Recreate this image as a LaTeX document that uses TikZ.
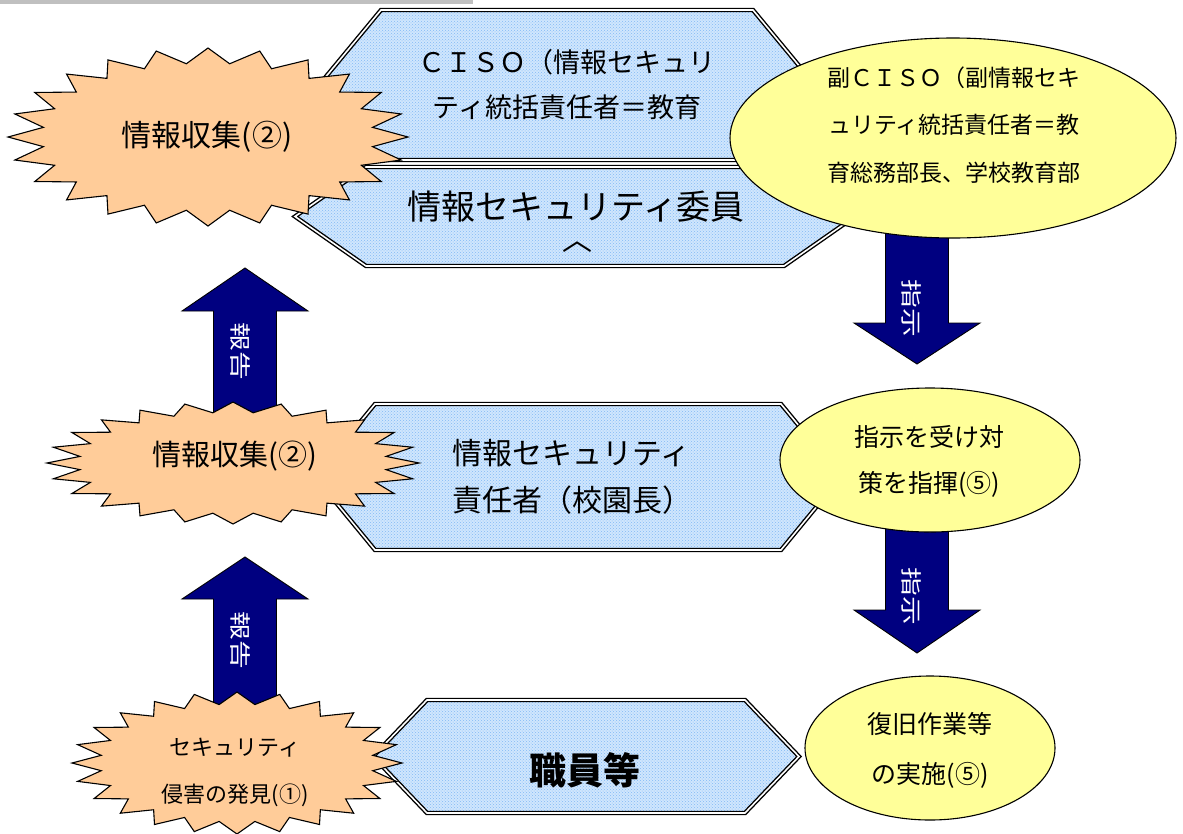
\documentclass[tikz,border=0pt]{standalone}
\usepackage{fontspec}
\setmainfont{Noto Sans CJK JP}
\usetikzlibrary{shapes.geometric,patterns}
\definecolor{peach}{RGB}{255,204,153}
\definecolor{ovalyellow}{RGB}{255,255,153}
\definecolor{navyblue}{RGB}{0,0,128}
\definecolor{hexblue}{RGB}{208,230,253}
\definecolor{hexdot}{RGB}{130,185,245}
\definecolor{barGray}{RGB}{192,192,192}
\tikzset{
  hexbox/.style={draw=black, double=white, line width=1.4pt, double distance=1.6pt,
    preaction={fill=hexblue}, pattern=crosshatch dots, pattern color=hexdot, line join=miter},
  burst/.style={draw=black, fill=peach, line width=1.1pt, line join=miter},
  oval/.style={ellipse, draw=black, fill=ovalyellow, line width=1.1pt, inner sep=0pt},
  blockarrow/.style={draw=black, fill=navyblue, line width=0.9pt, line join=miter},
  lbl/.style={inner sep=0pt, align=center, text=black},
  arrowlbl/.style={inner sep=0pt, text=white, rotate=-90, font=\fontsize{25}{25}\selectfont},
}
% xl, offset, xr, ytop, ybottom
\newcommand{\hexpoly}[5]{%
  \draw[hexbox] (#1,{(#4+#5)/2}) -- ({#1+#2},#4) -- ({#3-#2},#4) -- (#3,{(#4+#5)/2})
    -- ({#3-#2},#5) -- ({#1+#2},#5) -- cycle;}
% cx, cy, rx, ry
\newcommand{\burstpoly}[4]{%
  \draw[burst] plot[variable=\t, samples at={0,...,47}]
    ({#1+#3*(1-0.17*mod(\t,2))*cos(\t*7.5)}, {#2+#4*(1-0.17*mod(\t,2))*sin(\t*7.5)}) -- cycle;}
% cx, tip y, head base y, shaft end y
\newcommand{\blockarr}[4]{%
  \draw[blockarrow] ({#1-31.5},#4) -- ({#1-31.5},#3) -- ({#1-63},#3) -- (#1,#2)
    -- ({#1+63},#3) -- ({#1+31.5},#3) -- ({#1+31.5},#4) -- cycle;}
\begin{document}
\begin{tikzpicture}[x=1pt, y=-1pt]
\useasboundingbox (0,0) rectangle (1183,833);
\fill[barGray] (0,0) rectangle (473,4);

% hexagons
\hexpoly{319}{62}{815}{10}{160}
\hexpoly{295}{71}{855}{167}{266}
\hexpoly{315}{60}{841}{404}{550}
\hexpoly{373}{54}{799}{700}{813}

% block arrows
\blockarr{245}{268}{311}{430}
\blockarr{245}{557}{599}{720}
\blockarr{917}{364}{323}{220}
\blockarr{917}{653}{610}{515}

% bursts
\burstpoly{208}{137}{200}{89}
\burstpoly{233}{463}{186}{61}
\burstpoly{237}{763}{165}{71}

% ovals
\node[oval, minimum width=446pt, minimum height=200pt] (e1) at (953,138) {};
\node[oval, minimum width=300pt, minimum height=144pt] (e2) at (930,460) {};
\node[oval, minimum width=250pt, minimum height=144pt] (e3) at (930,748) {};

% texts
\node[lbl, font=\fontsize{30}{30}\selectfont] (s1) at (207,137) {情報収集(②)};
\node[lbl, font=\fontsize{29}{29}\selectfont] (s2) at (235,456) {情報収集(②)};
\node[lbl, font=\fontsize{22}{47}\selectfont] (s3) at (235,772) {セキュリティ\\侵害の発見(①)};

\node[lbl, font=\fontsize{27}{45}\selectfont] (h1) at (567,85) {ＣＩＳＯ（情報セキュリ\\ティ統括責任者＝教育};
\node[lbl, font=\fontsize{34}{34}\selectfont] (h2) at (576,207) {情報セキュリティ委員};
\node[lbl, font=\fontsize{30}{30}\selectfont] (h2b) at (577,247) {︿};
\node[lbl, align=left, anchor=west, font=\fontsize{30}{47}\selectfont] (h3) at (452,477) {情報セキュリティ\\責任者（校園長）};
\node[lbl, font=\fontsize{37}{37}\selectfont\bfseries] (h4) at (585,770) {職員等};

\node[lbl, font=\fontsize{23}{47.5}\selectfont] (t1) at (954,125) {副ＣＩＳＯ（副情報セキ\\ュリティ統括責任者＝教\\育総務部長、学校教育部};
\node[lbl, font=\fontsize{25}{46}\selectfont] (t2) at (929,461) {指示を受け対\\策を指揮(⑤)};
\node[lbl, font=\fontsize{25}{50}\selectfont] (t3) at (930,750) {復旧作業等\\の実施(⑤)};

\node[arrowlbl] (a1) at (240,351) {\scalebox{1.15}[0.85]{報告}};
\node[arrowlbl] (a2) at (240,640) {\scalebox{1.15}[0.85]{報告}};
\node[arrowlbl] (a3) at (912,308) {\scalebox{1.15}[0.85]{指示}};
\node[arrowlbl] (a4) at (912,596) {\scalebox{1.15}[0.85]{指示}};
\end{tikzpicture}
\end{document}
